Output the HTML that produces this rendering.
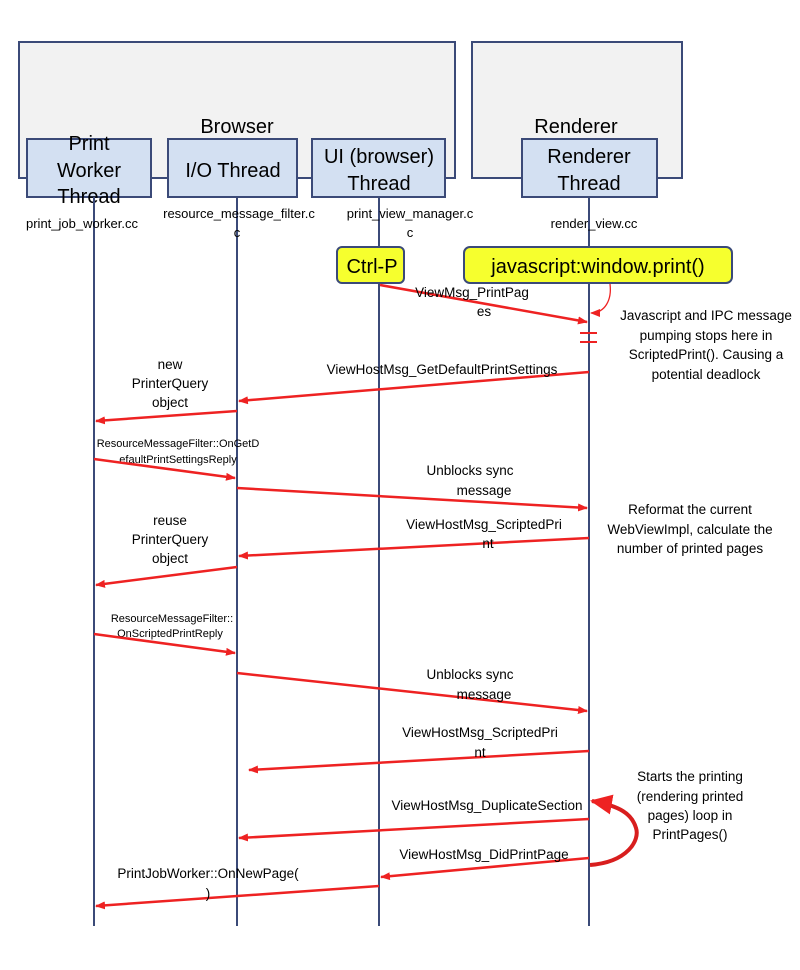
<!DOCTYPE html>
<html><head><meta charset="utf-8"><style>
html,body{margin:0;padding:0;background:#fff;}
svg{display:block;}
text{font-family:"Liberation Sans",sans-serif;fill:#000;}
.n{font-size:13.5px;text-anchor:middle;}
.s{font-size:11px;text-anchor:middle;}
.f{font-size:13px;text-anchor:middle;font-stretch:condensed;}
.b{font-size:20px;text-anchor:middle;}
.life{stroke:#3b4a78;stroke-width:2;}
.m{stroke:#ee2222;stroke-width:2.5;fill:none;}
</style></head><body>
<svg width="800" height="970" viewBox="0 0 800 970" xmlns="http://www.w3.org/2000/svg">
<defs>
<marker id="a" markerWidth="10" markerHeight="8" refX="9" refY="4" orient="auto" markerUnits="userSpaceOnUse">
<path d="M0,0 L10,4 L0,8 Z" fill="#ee2222"/></marker>
<marker id="big" markerWidth="22" markerHeight="20" refX="20" refY="10" orient="auto" markerUnits="userSpaceOnUse">
<path d="M0,0 L22,10 L0,20 Z" fill="#ee2222"/></marker>
</defs>
<rect x="19" y="42" width="436" height="136" fill="#f2f2f2" stroke="#3b4a78" stroke-width="2"/>
<rect x="472" y="42" width="210" height="136" fill="#f2f2f2" stroke="#3b4a78" stroke-width="2"/>
<text class="b" x="237" y="133">Browser</text>
<text class="b" x="576" y="133">Renderer</text>
<g fill="#d3e0f2" stroke="#3b4a78" stroke-width="2">
<rect x="27" y="139" width="124" height="58"/>
<rect x="168" y="139" width="129" height="58"/>
<rect x="312" y="139" width="133" height="58"/>
<rect x="522" y="139" width="135" height="58"/>
</g>
<text class="b" x="89" y="150">Print</text>
<text class="b" x="89" y="177">Worker</text>
<text class="b" x="89" y="203">Thread</text>
<text class="b" x="233" y="177">I/O Thread</text>
<text class="b" x="379" y="163">UI (browser)</text>
<text class="b" x="379" y="190">Thread</text>
<text class="b" x="589" y="163">Renderer</text>
<text class="b" x="589" y="190">Thread</text>
<line class="life" x1="94" y1="197" x2="94" y2="926"/>
<line class="life" x1="237" y1="197" x2="237" y2="926"/>
<line class="life" x1="379" y1="197" x2="379" y2="926"/>
<line class="life" x1="589" y1="197" x2="589" y2="926"/>
<text class="f" x="82" y="228">print_job_worker.cc</text>
<text class="f" x="239" y="218">resource_message_filter.c</text>
<text class="f" x="237" y="237">c</text>
<text class="f" x="410" y="218">print_view_manager.c</text>
<text class="f" x="410" y="237">c</text>
<text class="f" x="594" y="228">render_view.cc</text>
<rect x="337" y="247" width="67" height="36" rx="5" fill="#f6ff2e" stroke="#3b4a78" stroke-width="2"/>
<text class="b" x="372" y="273">Ctrl-P</text>
<rect x="464" y="247" width="268" height="36" rx="6" fill="#f6ff2e" stroke="#3b4a78" stroke-width="2"/>
<text class="b" x="598" y="273">javascript:window.print()</text>
<!-- messages -->
<line class="m" x1="380" y1="285" x2="587" y2="322" marker-end="url(#a)"/>
<text class="n" x="472" y="297">ViewMsg_PrintPag</text>
<text class="n" x="484" y="316">es</text>
<path d="M610,284 C612,300 605,313 591,313" stroke="#ee2222" stroke-width="1.3" fill="none" marker-end="url(#a)"/>
<line x1="580" y1="333" x2="597" y2="333" stroke="#ee2222" stroke-width="2"/>
<line x1="580" y1="342" x2="597" y2="342" stroke="#ee2222" stroke-width="2"/>
<text class="n" x="706" y="320">Javascript and IPC message</text>
<text class="n" x="706" y="340">pumping stops here in</text>
<text class="n" x="706" y="359">ScriptedPrint(). Causing a</text>
<text class="n" x="706" y="379">potential deadlock</text>
<line class="m" x1="589" y1="372" x2="239" y2="401" marker-end="url(#a)"/>
<text class="n" x="442" y="374">ViewHostMsg_GetDefaultPrintSettings</text>
<line class="m" x1="237" y1="411" x2="96" y2="421" marker-end="url(#a)"/>
<text class="n" x="170" y="369">new</text>
<text class="n" x="170" y="388">PrinterQuery</text>
<text class="n" x="170" y="407">object</text>
<text class="s" x="178" y="447">ResourceMessageFilter::OnGetD</text>
<text class="s" x="178" y="463">efaultPrintSettingsReply</text>
<line class="m" x1="94" y1="459" x2="235" y2="478" marker-end="url(#a)"/>
<line class="m" x1="237" y1="488" x2="587" y2="508" marker-end="url(#a)"/>
<text class="n" x="470" y="475">Unblocks sync</text>
<text class="n" x="484" y="495">message</text>
<text class="n" x="690" y="514">Reformat the current</text>
<text class="n" x="690" y="534">WebViewImpl, calculate the</text>
<text class="n" x="690" y="553">number of printed pages</text>
<line class="m" x1="589" y1="538" x2="239" y2="556" marker-end="url(#a)"/>
<text class="n" x="484" y="529">ViewHostMsg_ScriptedPri</text>
<text class="n" x="488" y="548">nt</text>
<line class="m" x1="237" y1="567" x2="96" y2="585" marker-end="url(#a)"/>
<text class="n" x="170" y="525">reuse</text>
<text class="n" x="170" y="544">PrinterQuery</text>
<text class="n" x="170" y="563">object</text>
<text class="s" x="172" y="622">ResourceMessageFilter::</text>
<text class="s" x="170" y="637">OnScriptedPrintReply</text>
<line class="m" x1="94" y1="634" x2="235" y2="653" marker-end="url(#a)"/>
<line class="m" x1="237" y1="673" x2="587" y2="711" marker-end="url(#a)"/>
<text class="n" x="470" y="679">Unblocks sync</text>
<text class="n" x="484" y="699">message</text>
<line class="m" x1="589" y1="751" x2="249" y2="770" marker-end="url(#a)"/>
<text class="n" x="480" y="737">ViewHostMsg_ScriptedPri</text>
<text class="n" x="480" y="757">nt</text>
<text class="n" x="690" y="781">Starts the printing</text>
<text class="n" x="690" y="801">(rendering printed</text>
<text class="n" x="690" y="820">pages) loop in</text>
<text class="n" x="690" y="839">PrintPages()</text>
<line class="m" x1="589" y1="819" x2="239" y2="838" marker-end="url(#a)"/>
<text class="n" x="487" y="810">ViewHostMsg_DuplicateSection</text>
<path d="M590,865 C628,862 640,840 636,828 C632,814 620,806 592,801" stroke="#d81e1e" stroke-width="4" fill="none" marker-end="url(#big)"/>
<line class="m" x1="589" y1="858" x2="381" y2="877" marker-end="url(#a)"/>
<text class="n" x="484" y="859">ViewHostMsg_DidPrintPage</text>
<line class="m" x1="379" y1="886" x2="96" y2="906" marker-end="url(#a)"/>
<text class="n" x="208" y="878">PrintJobWorker::OnNewPage(</text>
<text class="n" x="208" y="898">)</text>
</svg>
</body></html>
